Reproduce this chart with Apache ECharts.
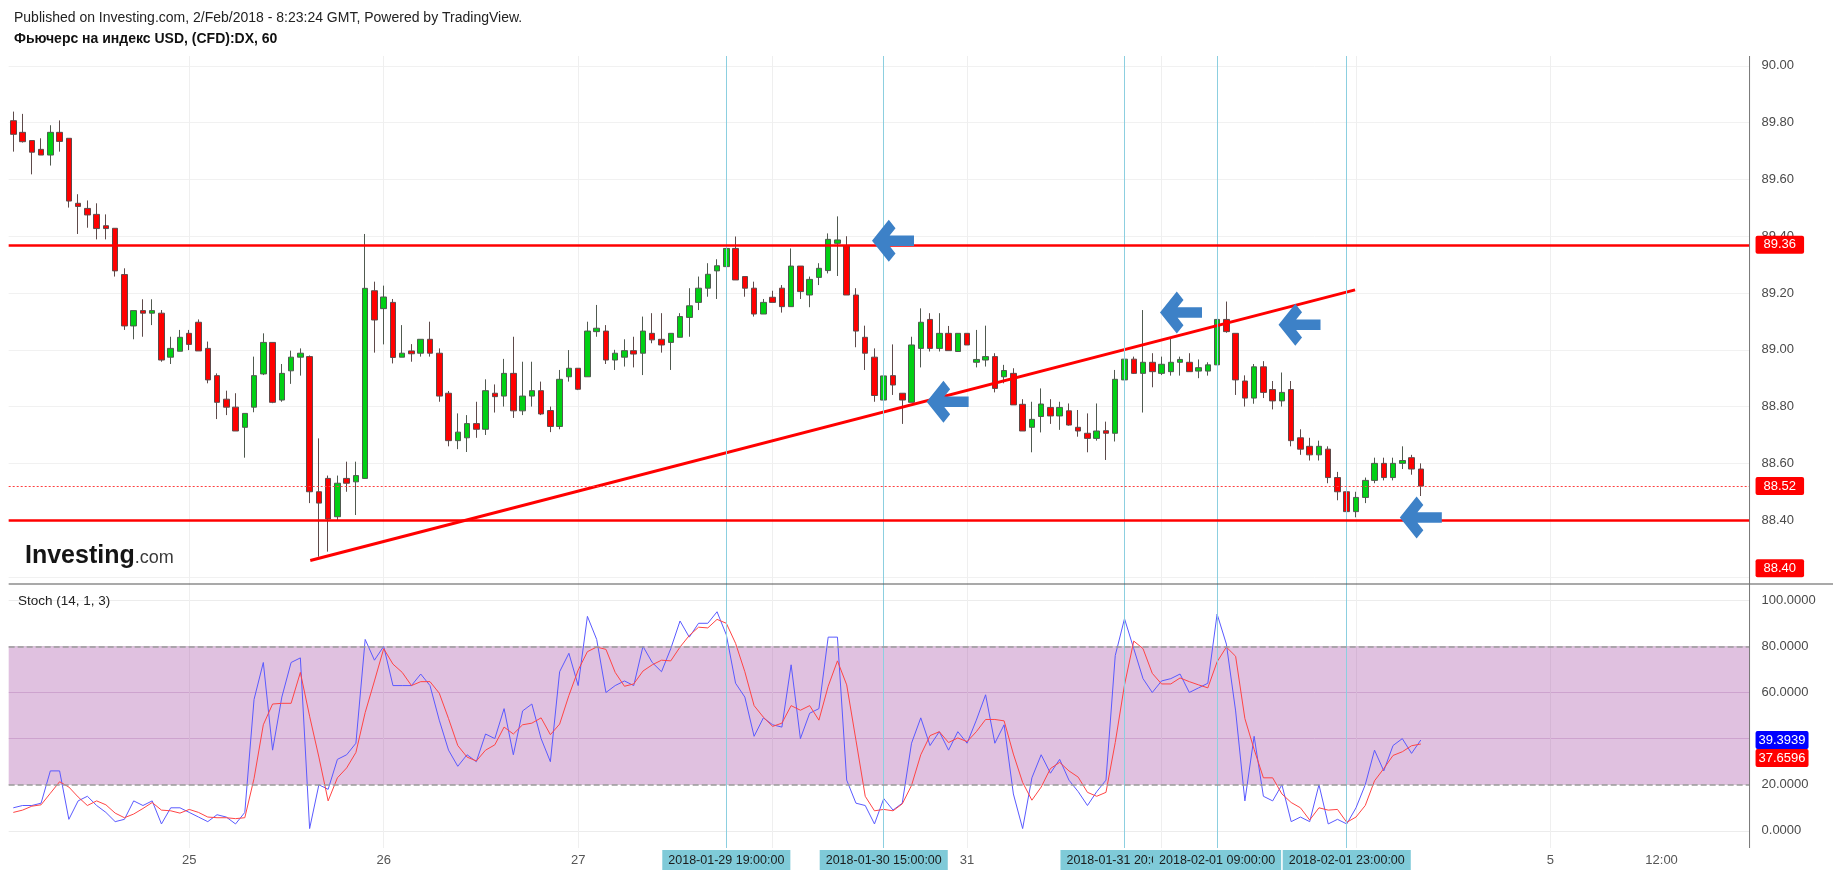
<!DOCTYPE html>
<html><head><meta charset="utf-8">
<script src="https://cdn.jsdelivr.net/npm/echarts@6/dist/echarts.min.js"></script>
<style>html,body{margin:0;padding:0;background:#fff}#c{width:1833px;height:877px}</style>
</head><body><div id="c"></div>
<script>
// ---- candle data (hourly, oldest first) ----
const opens = [
89.807,89.766,89.737,89.706,89.686,89.766,89.745,89.516,89.498,89.477,
89.437,89.428,89.265,89.084,89.138,89.129,89.129,88.974,88.995,89.058,
89.097,89.005,88.909,88.826,88.798,88.727,88.798,88.915,89.026,88.823,
88.926,88.974,88.976,88.50,88.547,88.412,88.547,88.535,88.547,89.208,
89.145,89.167,88.974,88.996,88.988,89.037,88.988,88.847,88.68,88.69,
88.74,88.72,88.847,88.837,88.917,88.785,88.837,88.856,88.786,88.73,
88.905,88.935,88.905,89.064,89.066,88.964,88.974,88.997,88.988,89.058,
89.037,89.026,89.044,89.114,89.167,89.217,89.278,89.293,89.357,89.258,
89.217,89.126,89.185,89.217,89.152,89.295,89.193,89.255,89.279,89.375,
89.366,89.193,89.044,88.974,88.823,88.909,88.847,88.815,89.005,89.107,
89.005,89.058,88.994,89.058,88.956,88.964,88.976,88.905,88.917,88.808,
88.727,88.765,88.797,88.767,88.785,88.727,88.706,88.688,88.715,88.706,
88.894,88.967,88.917,88.956,88.917,88.923,88.956,88.956,88.925,88.925,
88.947,89.107,89.058,88.89,88.83,88.94,88.86,88.82,88.86,88.69,
88.66,88.63,88.65,88.55,88.50,88.43,88.48,88.54,88.60,88.55,
88.60,88.62,88.58];
const closes = [
89.759,89.733,89.696,89.686,89.766,89.734,89.524,89.505,89.475,89.427,
89.427,89.278,89.084,89.138,89.129,89.138,88.964,89.005,89.044,89.019,
88.996,88.894,88.815,88.798,88.714,88.776,88.909,89.026,88.815,88.917,
88.974,88.988,88.50,88.46,88.404,88.53,88.53,88.557,89.2165,89.105,
89.186,88.973,88.988,88.986,89.037,88.988,88.837,88.68,88.71,88.74,
88.72,88.856,88.835,88.917,88.785,88.837,88.856,88.774,88.73,88.896,
88.935,88.861,89.066,89.076,88.964,88.988,88.997,88.985,89.066,89.035,
89.017,89.058,89.117,89.155,89.217,89.266,89.296,89.357,89.246,89.217,
89.126,89.167,89.167,89.152,89.295,89.205,89.248,89.287,89.389,89.387,
89.193,89.066,88.988,88.839,88.908,88.876,88.823,89.017,89.097,89.005,
89.058,88.997,89.058,89.017,88.966,88.976,88.864,88.927,88.806,88.714,
88.755,88.809,88.767,88.797,88.735,88.714,88.688,88.714,88.706,88.896,
88.967,88.917,88.956,88.923,88.949,88.956,88.966,88.923,88.937,88.947,
89.107,89.064,88.894,88.83,88.94,88.85,88.82,88.85,88.68,88.65,
88.63,88.66,88.55,88.50,88.43,88.48,88.54,88.60,88.55,88.60,
88.61,88.58,88.52];
const lows = [
89.698,89.730,89.618,89.686,89.649,89.698,89.501,89.408,89.430,89.389,
89.389,89.258,89.070,89.037,89.046,89.087,88.958,88.950,88.995,88.999,
88.996,88.882,88.756,88.770,88.714,88.620,88.780,88.911,88.812,88.817,
88.880,88.909,88.46,88.271,88.289,88.40,88.50,88.418,88.545,88.990,
89.019,88.952,88.974,88.958,88.976,88.976,88.817,88.66,88.65,88.64,
88.69,88.70,88.779,88.80,88.76,88.770,88.800,88.770,88.71,88.72,
88.888,88.858,88.905,89.046,88.950,88.929,88.941,88.938,88.911,89.023,
88.990,88.929,89.044,89.046,89.140,89.187,89.179,89.293,89.246,89.187,
89.117,89.126,89.167,89.131,89.152,89.179,89.150,89.228,89.269,89.260,
89.193,89.009,88.929,88.817,88.817,88.841,88.739,88.815,88.938,88.994,
88.994,88.997,88.994,89.017,88.938,88.941,88.850,88.882,88.806,88.714,
88.639,88.709,88.739,88.718,88.733,88.694,88.639,88.680,88.612,88.677,
88.841,88.915,88.779,88.868,88.911,88.909,88.909,88.923,88.900,88.909,
88.947,89.060,88.841,88.80,88.81,88.83,88.79,88.80,88.66,88.63,
88.61,88.61,88.53,88.47,88.40,88.41,88.46,88.53,88.54,88.54,
88.58,88.56,88.485];
const highs = [
89.839,89.831,89.737,89.745,89.791,89.808,89.745,89.548,89.526,89.516,
89.477,89.428,89.287,89.138,89.178,89.178,89.140,89.046,89.070,89.070,
89.107,89.029,88.917,88.856,88.847,88.776,88.976,89.058,89.026,88.950,
88.997,89.005,88.98,88.688,88.557,88.557,88.606,88.606,89.408,89.240,
89.226,89.179,89.087,89.020,89.037,89.099,89.005,88.855,88.776,88.770,
88.817,88.896,88.878,88.968,89.046,88.958,88.958,88.888,88.80,88.929,
88.999,88.935,89.099,89.158,89.087,89.000,89.037,89.046,89.117,89.129,
89.129,89.058,89.129,89.217,89.258,89.305,89.319,89.440,89.399,89.258,
89.240,89.179,89.208,89.228,89.357,89.295,89.258,89.305,89.41,89.47,
89.40,89.217,89.085,89.005,88.958,89.019,88.847,89.046,89.146,89.129,
89.129,89.084,89.058,89.058,89.070,89.085,88.988,88.947,88.935,88.826,
88.817,88.864,88.826,88.817,88.811,88.788,88.776,88.811,88.747,88.929,
89.000,88.976,89.140,88.988,88.976,89.040,88.976,88.988,88.966,88.956,
89.107,89.170,89.058,88.91,88.95,88.96,88.89,88.92,88.89,88.72,
88.69,88.68,88.66,88.57,88.52,88.50,88.55,88.62,88.62,88.62,
88.66,88.63,88.60];
// ---- Stoch (14,1,3) ----
const stochK = [
10,11,11,12,26,26,5,13,15,11,
8,4,5,13,11,13,3,10,10,8,
6,4,7,6,3,8,57,73,35,58,
73,75,1,20,18,31,33,38,83,74,
80,63,63,63,68,63,48,35,28,33,
30,42,40,53,33,52,55,40,30,69,
77,63,93,83,60,63,65,63,80,73,
69,79,91,84,90,90,95,85,64,58,
41,49,46,45,72,40,51,53,84,84,
22,12,11,3,14,9,12,38,49,37,
43,35,43,38,48,59,38,46,16,1,
23,33,25,31,22,17,11,17,22,76,
92,79,66,60,65,66,68,60,62,64,
94,81,52,13,41,15,13,20,4,6,
4,20,3,5,3,10,20,35,26,37,
40,33.6,39.3939];
const stochD = [
8,9,10.7,11.3,16.3,21.3,19,14.7,11,13,
11.3,7.7,5.7,7.3,9.7,12.3,9,8.7,7.7,9.3,
8,6,5.7,5.7,5.3,5.7,22.7,46,55,55.3,
55.3,68.7,49.7,32,13,23,27.3,34,51.3,65,
79,72.3,68.7,63,64.7,64.7,59.7,48.7,37,32,
30.3,35,37.3,45,42,46,46.7,49,41.7,46.3,
58.7,69.7,77.7,79.7,78.7,68.7,62.7,63.7,69.3,72,
74,73.7,79.7,84.7,88.3,88,91.7,90,81.3,69,
54.3,49.3,45.3,46.7,54.3,52.3,54.3,48,62.7,73.7,
63.3,39.3,15,8.7,9.3,8.7,11.7,19.7,33,41.3,
43,38.3,40.3,38.7,43,48.3,48.3,47.7,33.3,21,
13.3,19,27,29.7,26,23.3,16.7,15,16.7,38.3,
63.3,82.3,79,68.3,63.7,63.7,66.3,64.7,63.3,62,
73.3,79.7,75.7,48.7,35.3,23,23,16,12.3,10,
4.7,10,9,9.3,3.7,6,11,21.7,27,32.7,
34.3,36.9,37.6596];
// ---- time axis labels (bar index -> text) ----
const dayIdx = [19, 40, 61, 103, 166, 178];
const dayText = ['25', '26', '27', '31', '5', '12:00'];
const gridDayIdx = [19, 40, 61, 82, 103, 124, 145, 166];
const markIdx = [77, 94, 120, 130, 144];
const markText = ['2018-01-29 19:00:00', '2018-01-30 15:00:00', '2018-01-31 20:00:00', '2018-02-01 09:00:00', '2018-02-01 23:00:00'];
// ---- drawings ----
const levelPrices = [89.367, 88.40];
const levelTags = ['89.36', '88.40'];
const lastPrice = 88.52;
const trendX = [32.07, 144.9];
const trendY = [88.258, 89.211];
const arrowX = [95.0, 100.9, 126.1, 138.9, 152.0];
const arrowY = [89.384, 88.817, 89.131, 89.088, 88.409];
const kLast = 39.3939, dLast = 37.6596;

// ---- layout ----
const M = 188, SLOT = 9.26, X0 = 8.67;
const P_MIN = 88.0, P_MAX = 90.2, P_TOP = 9.12, P_PX = 283.9;
const S_MIN = -20, S_MAX = 120, S_TOP = 554.1, S_PX = 2.315;
const FONT = 'Arial, "Liberation Sans", sans-serif';
const cats = Array.from({length: M}, (_, i) => 'b' + i);
const labelMap = {};
dayIdx.forEach((i, k) => labelMap[i] = '{d|' + dayText[k] + '}');
markIdx.forEach((i, k) => labelMap[i] = '{hl|' + markText[k] + '}');
const candles = opens.map((o, i) => [o, closes[i], lows[i], highs[i]]);

const mainSplit = ['rgba(0,0,0,0)'];
for (let i = 0; i < 10; i++) mainSplit.push('#f1f1f1');
mainSplit.push('rgba(0,0,0,0)');
const stochSplit = ['rgba(0,0,0,0)', '#ececec', '#ececec', '#e4d4e6', '#e4d4e6', '#ececec', '#ececec', 'rgba(0,0,0,0)'];

const tagLabel = (txt, bg, pad, off) => ({
  show: true, position: 'end', distance: 6, formatter: txt, color: '#fff',
  backgroundColor: bg, padding: pad, borderRadius: 2, fontSize: 13, fontFamily: FONT,
  offset: off || [0, 0]
});
const hiddenLine = {color: 'rgba(0,0,0,0)', width: 0};

const chart = echarts.init(document.getElementById('c'));
chart.setOption({
  animation: false,
  backgroundColor: '#ffffff',
  grid: [
    {left: X0, top: P_TOP, width: M * SLOT, height: (P_MAX - P_MIN) * P_PX},
    {left: X0, top: S_TOP, width: M * SLOT, height: (S_MAX - S_MIN) * S_PX},
    {left: X0 + SLOT / 2, top: 56, width: (M - 1) * SLOT, height: 792}
  ],
  xAxis: [
    {gridIndex: 0, type: 'category', data: cats, show: false},
    {gridIndex: 0, type: 'value', min: -0.5, max: M - 0.5, show: false},
    {gridIndex: 1, type: 'category', data: cats, show: false},
    {gridIndex: 2, type: 'category', data: cats, boundaryGap: false,
      axisLine: {show: false}, axisTick: {show: false},
      axisLabel: {interval: 0, margin: 2, hideOverlap: false,
        formatter: (v, idx) => labelMap[idx] || '',
        rich: {
          hl: {backgroundColor: '#7fcad8', color: '#1c1c1c', fontSize: 12.5, fontFamily: FONT, padding: [4, 6, 3, 6]},
          d: {color: '#555555', fontSize: 13, fontFamily: FONT, padding: [4, 0, 3, 0]}
        }},
      splitLine: {show: true, interval: (idx) => gridDayIdx.indexOf(idx) >= 0,
        lineStyle: {color: '#efefef', width: 1}}}
  ],
  yAxis: [
    {gridIndex: 0, type: 'value', position: 'right', min: P_MIN, max: P_MAX, interval: 0.2,
      axisLine: {show: false}, axisTick: {show: false},
      axisLabel: {margin: 12, color: '#4a4a4a', fontSize: 13, fontFamily: FONT,
        formatter: v => (v < 88.3 || v > 90.1) ? '' : v.toFixed(2)},
      splitLine: {lineStyle: {color: mainSplit, width: 1}}},
    {gridIndex: 1, type: 'value', position: 'right', min: S_MIN, max: S_MAX, interval: 20,
      axisLine: {show: false}, axisTick: {show: false},
      axisLabel: {margin: 12, color: '#4a4a4a', fontSize: 13, fontFamily: FONT,
        formatter: v => (v < 0 || v > 100) ? '' : v.toFixed(4)},
      splitLine: {lineStyle: {color: stochSplit, width: 1}}},
    {gridIndex: 2, type: 'value', min: 0, max: 1, show: false}
  ],
  series: [
    {type: 'line', xAxisIndex: 3, yAxisIndex: 2, data: cats.map(() => null), z: 1, silent: true,
      markLine: {silent: true, symbol: ['none', 'none'], label: {show: false},
        lineStyle: {color: '#8ccfe0', width: 1, type: 'solid'},
        data: markIdx.map(i => ({xAxis: cats[i]}))}},
    {type: 'candlestick', xAxisIndex: 0, yAxisIndex: 0, data: candles, barWidth: 6, z: 2,
      itemStyle: {color: '#00d014', color0: '#ff0000', borderColor: '#505a50', borderColor0: '#5e4a4a', borderWidth: 1},
      markLine: {silent: true, symbol: ['none', 'none'],
        data: [
          {yAxis: levelPrices[0], lineStyle: {color: '#ff0000', width: 2.5, type: 'solid'}, label: tagLabel(levelTags[0], '#ff0000', [3, 8, 2, 8])},
          {yAxis: levelPrices[1], lineStyle: {color: '#ff0000', width: 2.5, type: 'solid'}, label: tagLabel(levelTags[1], '#ff0000', [3, 8, 2, 8], [0, 48])},
          {yAxis: lastPrice, lineStyle: {color: '#ff4040', width: 1, type: [2, 2]}, label: tagLabel(lastPrice.toFixed(2), '#ff0000', [3, 8, 2, 8])}
        ]}},
    {type: 'line', xAxisIndex: 1, yAxisIndex: 0, z: 4, symbol: 'none', silent: true,
      data: trendX.map((x, i) => [x, trendY[i]]),
      lineStyle: {color: '#ff0000', width: 3}},
    {type: 'scatter', xAxisIndex: 1, yAxisIndex: 0, z: 5, silent: true,
      data: arrowX.map((x, i) => [x, arrowY[i]]),
      symbol: 'path://M0,50L40,10L56,26L42,40L100,40L100,60L42,60L56,74L40,90Z',
      symbolSize: [42, 42], itemStyle: {color: '#3d81c7', opacity: 1}},
    {type: 'line', xAxisIndex: 2, yAxisIndex: 1, data: cats.map(() => null), z: 1, silent: true,
      markArea: {silent: true, itemStyle: {color: 'rgba(153,51,153,0.3)'}, data: [[{yAxis: 20}, {yAxis: 80}]]},
      markLine: {silent: true, symbol: ['none', 'none'], label: {show: false},
        lineStyle: {color: '#9a9a9a', width: 1.5, type: [6, 3]},
        data: [{yAxis: 80}, {yAxis: 20}]}},
    {type: 'line', name: 'K', xAxisIndex: 2, yAxisIndex: 1, data: stochK, z: 3, symbol: 'none', silent: true,
      lineStyle: {color: '#5a5aff', width: 1},
      markLine: {silent: true, symbol: ['none', 'none'], z: 6,
        data: [{yAxis: kLast, lineStyle: hiddenLine, label: tagLabel(kLast.toFixed(4), '#0000ff', [3, 3, 2, 3])}]}},
    {type: 'line', name: 'D', xAxisIndex: 2, yAxisIndex: 1, data: stochD, z: 3, symbol: 'none', silent: true,
      lineStyle: {color: '#ff4545', width: 1},
      markLine: {silent: true, symbol: ['none', 'none'], z: 6,
        data: [{yAxis: dLast, lineStyle: hiddenLine, label: tagLabel(dLast.toFixed(4), '#ff0000', [3, 3, 2, 3], [0, 14])}]}}
  ],
  graphic: [
    {type: 'text', x: 14, y: 18, z: 10, style: {text: 'Published on Investing.com, 2/Feb/2018 - 8:23:24 GMT, Powered by TradingView.', fill: '#222', fontSize: 14, fontFamily: FONT, verticalAlign: 'middle'}},
    {type: 'text', x: 14, y: 39.5, z: 10, style: {text: 'Фьючерс на индекс USD, (CFD):DX, 60', fill: '#111', fontSize: 14, fontWeight: 'bold', fontFamily: FONT, verticalAlign: 'middle'}},
    {type: 'text', x: 18, y: 601.5, z: 10, style: {text: 'Stoch (14, 1, 3)', fill: '#222', fontSize: 13.5, fontFamily: FONT, verticalAlign: 'middle'}},
    {type: 'text', x: 25, y: 569, z: 10, style: {text: '{a|Investing}{b|.com}', verticalAlign: 'bottom',
      rich: {a: {fontSize: 25, fontWeight: 'bold', fill: '#151515', fontFamily: FONT, verticalAlign: 'bottom'},
             b: {fontSize: 18, fill: '#3a3a3a', fontFamily: FONT, verticalAlign: 'bottom', padding: [0, 0, 2, 0]}}}},
    {type: 'line', z: 10, shape: {x1: X0, y1: 584, x2: 1833, y2: 584}, style: {stroke: '#555', lineWidth: 1.2}},
    {type: 'line', z: 10, shape: {x1: X0 + M * SLOT, y1: 56, x2: X0 + M * SLOT, y2: 848}, style: {stroke: '#777', lineWidth: 1}}
  ]
});
</script>
</body></html>
